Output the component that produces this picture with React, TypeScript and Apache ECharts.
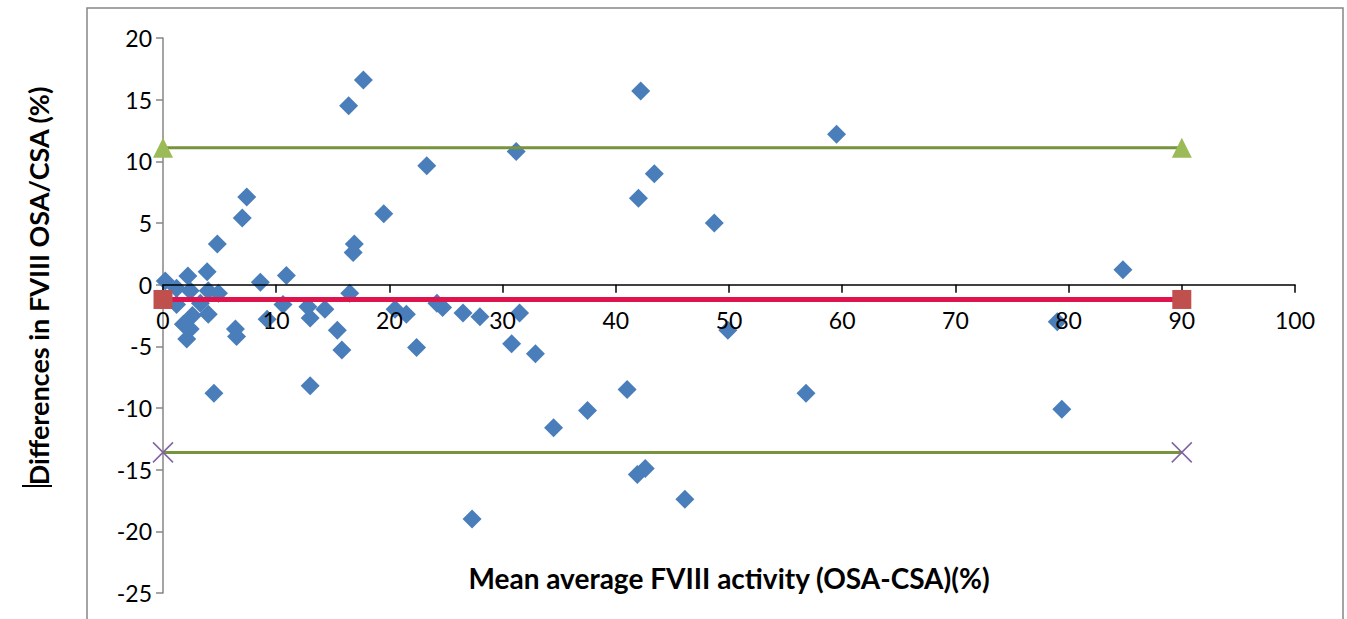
import React, { useEffect, useRef } from "react";
import * as echarts from "echarts";

// Bland-Altman style data: [mean FVIII activity, difference]
const diffPoints: [number, number][] = [
  [0.2, 0.3], [2.2, 0.7], [3.9, 1.05], [8.6, 0.2], [10.9, 0.75],
  [1.2, -0.3], [2.4, -0.5], [4.0, -0.5], [4.9, -0.7], [3.3, -1.5],
  [1.2, -1.6], [4.0, -2.4], [2.6, -2.5], [1.8, -3.2], [2.4, -3.6],
  [2.1, -4.4], [6.4, -3.6], [6.5, -4.2], [9.2, -2.8], [10.6, -1.6],
  [12.8, -1.8], [13.0, -2.7], [14.3, -2.0], [15.4, -3.7], [15.8, -5.3],
  [13.0, -8.2], [4.5, -8.8], [4.8, 3.3], [7.0, 5.4], [7.4, 7.1],
  [16.4, 14.5], [17.7, 16.6], [16.5, -0.7], [16.9, 3.3], [16.8, 2.6],
  [19.5, 5.75], [20.5, -2.0], [21.5, -2.4], [22.4, -5.1], [23.3, 9.65],
  [24.2, -1.5], [24.7, -1.85], [26.5, -2.3], [28.0, -2.6], [27.3, -19.0],
  [30.8, -4.8], [31.2, 10.8], [31.5, -2.3], [32.9, -5.6], [34.5, -11.6],
  [37.5, -10.2], [41.0, -8.5], [41.9, -15.4], [42.6, -14.9], [42.0, 7.0],
  [42.2, 15.7], [43.4, 9.0], [46.1, -17.4], [48.7, 5.0], [49.9, -3.7],
  [56.8, -8.8], [59.5, 12.2], [79.0, -3.0], [79.4, -10.1], [84.8, 1.2],
];

const lineX = [0, 90];
const meanValue = -1.2;
const upperValue = 11.1;
const lowerValue = -13.6;

const yMin = -25;
const yMax = 20;

const xTitle = "Mean average FVIII activity (OSA-CSA)(%)";
const yTitle = "Differences in FVIII OSA/CSA (%)";

const FONT = "Lato, 'Open Sans', sans-serif";

const GRID_TOP = 38;
const GRID_BOTTOM = 26;
const CHART_H = 619;

export default function App() {
  const ref = useRef<HTMLDivElement>(null);

  useEffect(() => {
    if (!ref.current) return;
    const chart = echarts.init(ref.current, undefined, { renderer: "svg" });
    const mkLine = (v: number) => lineX.map((x) => [x, v]);
    // distance from grid bottom to the y=0 line, so the x axis sits on zero
    const gridH = CHART_H - GRID_TOP - GRID_BOTTOM;
    const zeroOffset = -gridH * ((0 - yMin) / (yMax - yMin));
    chart.setOption({
      animation: false,
      backgroundColor: "#ffffff",
      textStyle: { fontFamily: FONT },
      grid: {
        left: 163,
        right: 52,
        top: GRID_TOP,
        bottom: GRID_BOTTOM,
        containLabel: false,
        outerBoundsMode: "none",
      },
      xAxis: {
        type: "value",
        min: 0,
        max: 100,
        interval: 10,
        position: "bottom",
        offset: zeroOffset,
        z: 5,
        axisLine: { show: true, onZero: false, lineStyle: { color: "#000000", width: 1.5 } },
        axisTick: { show: true, length: 8, lineStyle: { color: "#000000", width: 1.5 } },
        axisLabel: { fontSize: 23, color: "#000000", margin: 24, fontFamily: FONT },
        splitLine: { show: false },
      },
      yAxis: {
        type: "value",
        min: yMin,
        max: yMax,
        interval: 5,
        axisLine: { show: true, onZero: false, lineStyle: { color: "#868686", width: 1.5 } },
        axisTick: { show: true, length: 7, lineStyle: { color: "#868686", width: 1.5 } },
        axisLabel: { fontSize: 23, color: "#000000", margin: 11, fontFamily: FONT },
        splitLine: { show: false },
      },
      graphic: [
        {
          type: "rect",
          shape: { x: 87, y: 8, width: 1256, height: 640 },
          style: { fill: "none", stroke: "#868686", lineWidth: 1.5 },
          silent: true,
          z: -10,
        },
        {
          type: "text",
          x: 729,
          y: 578,
          style: {
            text: xTitle,
            fontSize: 28,
            fontWeight: "bold",
            fontFamily: FONT,
            fill: "#000000",
            textAlign: "center",
            textVerticalAlign: "middle",
          },
        },
        {
          type: "text",
          x: 38,
          y: 286,
          rotation: Math.PI / 2,
          style: {
            text: yTitle,
            fontSize: 27,
            fontWeight: "bold",
            fontFamily: FONT,
            fill: "#000000",
            textAlign: "center",
            textVerticalAlign: "middle",
          },
        },
        {
          type: "line",
          shape: { x1: 22, y1: 486, x2: 52, y2: 486 },
          style: { stroke: "#000000", lineWidth: 2 },
        },
      ],
      series: [
        {
          type: "scatter",
          data: diffPoints,
          symbol: "diamond",
          symbolSize: 19,
          itemStyle: { color: "#4A7EBB", opacity: 1 },
          z: 2,
        },
        {
          type: "line",
          data: mkLine(upperValue),
          symbol: "triangle",
          symbolSize: 20,
          showSymbol: true,
          itemStyle: { color: "#9BBB59" },
          lineStyle: { color: "#77933C", width: 3 },
          z: 3,
        },
        {
          type: "line",
          data: mkLine(lowerValue),
          symbol: "path://M0,0L20,20M20,0L0,20",
          symbolSize: 20,
          showSymbol: true,
          itemStyle: { color: "none", borderColor: "#8064A2", borderWidth: 1.5 },
          lineStyle: { color: "#77933C", width: 3 },
          z: 3,
        },
        {
          type: "line",
          data: mkLine(meanValue),
          symbol: "rect",
          symbolSize: 19,
          showSymbol: true,
          itemStyle: { color: "#C0504D" },
          lineStyle: { color: "#E0144C", width: 5, cap: "round" },
          z: 6,
        },
      ],
    });
    return () => chart.dispose();
  }, []);

  return (
    <div
      ref={ref}
      style={{ position: "absolute", left: 0, top: 0, width: 1347, height: 619 }}
    />
  );
}
